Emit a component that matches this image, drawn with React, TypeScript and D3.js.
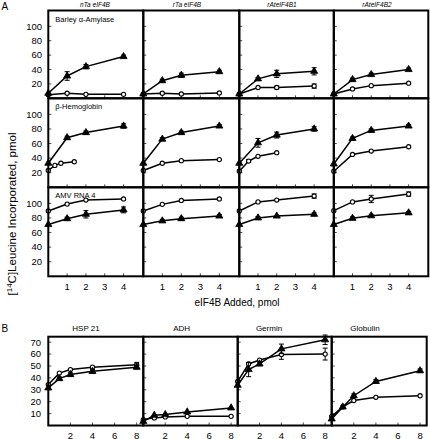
import React from "react";
import * as d3 from "d3";

// ---------- DATA ----------
const colTitlesA = ["nTa eIF4B", "rTa eIF4B", "rAteIF4B1", "rAteIF4B2"];
const rowTitlesA = ["Barley \u03b1-Amylase", "\u03b2-Hemoglobin", "AMV RNA 4"];
const xTicksA = [1, 2, 3, 4];
const yTicksA = [20, 40, 60, 80, 100];
const xA = [0, 1, 2, 4];

// Row 1: Barley α-Amylase
const amylaseTri = [[7, 31, 44, 58], [6, 24.5, 32, 37], [6, 27, 34, 37.5], [6, 26, 33, 40]];
const amylaseTriErr = [[0, 6, 3, 2], [0, 2, 3, 2], [0, 2, 5, 5], [0, 2, 2, 2]];
const amylaseCirc = [[5, 7, 5.5, 5.5], [6, 7, 6, 7.4], [6, 15, 15, 17], [6, 13, 17.6, 21]];
const amylaseCircErr = [[0, 1, 0, 0], [0, 0, 0, 0], [0, 1, 2, 3], [0, 1, 1, 1]];
const amylaseCircX = [xA, xA, xA, xA];

// Row 2: β-Hemoglobin
const hemoTri = [[33, 68, 75, 84], [33, 66, 75, 84], [33, 61, 71.6, 80], [32, 67, 78, 84]];
const hemoTriErr = [[0, 2, 2, 3], [0, 2, 2, 2], [0, 6, 4, 3], [0, 2, 2, 2]];
const hemoCirc = [[23, 30, 33, 35], [23, 33, 36.5, 38], [22, 36, 42.5, 47.4], [22, 45, 49.7, 55.6]];
const hemoCircErr = [[0, 1, 1, 1], [0, 1, 1, 1], [0, 2, 1, 1], [0, 1, 1, 1]];
const hemoCircX = [[0, 0.35, 0.67, 1.38], xA, [0, 0.5, 1, 2], xA];

// Row 3: AMV RNA 4
const amvTri = [[71, 79, 85, 91], [71, 76, 79, 82.6], [71, 80, 82.6, 85], [71, 79.5, 83, 87]];
const amvTriErr = [[0, 2, 5, 4], [0, 2, 2, 2], [0, 2, 1, 2], [0, 2, 2, 2]];
const amvCirc = [[89.5, 99, 104.5, 106], [89.5, 98.6, 104, 106], [89.5, 102, 104.5, 110], [90, 102, 106, 112.7]];
const amvCircErr = [[0, 1, 1, 1], [0, 1, 1, 1], [0, 1, 1, 3], [0, 1, 5, 3]];
const amvCircX = [xA, xA, xA, xA];

// Panel B
const colTitlesB = ["HSP 21", "ADH", "Germin", "Globulin"];
const xB = [0, 1, 2, 4, 8];
const xTicksB = [2, 4, 6, 8];
const yTicksB = [10, 20, 30, 40, 50, 60, 70];
const bTri = [
  [31.6, 39.4, 42.8, 45.5, 49],
  [3.5, 8.6, 9.2, 11.4, 14.8],
  [33.8, 47, 51.7, 64.4, 72],
  [5.5, 15.6, 25, 37, 46],
];
const bTriErr = [
  [1, 1.5, 1.5, 1.5, 1.5],
  [0.5, 1, 1, 1, 1],
  [1, 6, 1.5, 4, 4],
  [1, 1, 1.5, 1.5, 1.5],
];
const bCirc = [
  [34.4, 44, 47, 49, 51],
  [5, 6.4, 7.2, 7.7, 7.7],
  [37, 51.7, 55, 59.6, 60],
  [7.7, 15.6, 21, 23.7, 25],
];
const bCircErr = [
  [1, 1, 1, 1, 2],
  [0.5, 0.5, 0.5, 0.5, 0.5],
  [1, 1, 1, 4, 5],
  [1, 1, 1, 1, 1],
];

// ---------- LAYOUT ----------
const FONT = "'Liberation Sans', Arial, sans-serif";
const colEdgesA = [48.3, 143.3, 239.3, 333.8, 428.3];
const rowEdgesA = [10.5, 98.3, 187.3, 276.3];
const colEdgesB = [48.3, 143.3, 237.7, 331.7, 426.7];
const topB = 336.7;
const botB = 425.5;
const titleXB = [86, 181.7, 269, 365];

type Series = { x: number[]; y: number[]; e: number[] };

function Markers({ s, xs, ys, kind }: { s: Series; xs: d3.ScaleLinear<number, number>; ys: d3.ScaleLinear<number, number>; kind: "tri" | "circ" }) {
  const line = d3
    .line<number>()
    .x((_, i) => xs(s.x[i]))
    .y((v) => ys(v));
  const tri = d3.symbol().type(d3.symbolTriangle).size(22)();
  return (
    <g>
      <path d={line(s.y) || ""} fill="none" stroke="#000" strokeWidth={1.5} />
      {s.y.map((v, i) =>
        s.e[i] > 1.2 ? (
          <g key={"e" + i} stroke="#000" strokeWidth={1}>
            <line x1={xs(s.x[i])} x2={xs(s.x[i])} y1={ys(v - s.e[i])} y2={ys(v + s.e[i])} />
            <line x1={xs(s.x[i]) - 2.5} x2={xs(s.x[i]) + 2.5} y1={ys(v - s.e[i])} y2={ys(v - s.e[i])} />
            <line x1={xs(s.x[i]) - 2.5} x2={xs(s.x[i]) + 2.5} y1={ys(v + s.e[i])} y2={ys(v + s.e[i])} />
          </g>
        ) : null
      )}
      {s.y.map((v, i) =>
        kind === "tri" ? (
          <path key={"m" + i} d={tri || ""} transform={`translate(${xs(s.x[i])},${ys(v)})`} fill="#000" stroke="#000" strokeWidth={0.8} />
        ) : (
          <circle key={"m" + i} cx={xs(s.x[i])} cy={ys(v)} r={2.1} fill="#fff" stroke="#000" strokeWidth={1.1} />
        )
      )}
    </g>
  );
}

export default function App() {
  const rowsA = [
    { tri: amylaseTri, triE: amylaseTriErr, circ: amylaseCirc, circE: amylaseCircErr, circX: amylaseCircX },
    { tri: hemoTri, triE: hemoTriErr, circ: hemoCirc, circE: hemoCircErr, circX: hemoCircX },
    { tri: amvTri, triE: amvTriErr, circ: amvCirc, circE: amvCircErr, circX: amvCircX },
  ];

  const panelsA: React.ReactNode[] = [];
  rowsA.forEach((row, r) => {
    const y0 = rowEdgesA[r];
    const y1 = rowEdgesA[r + 1];
    const ys = d3.scaleLinear().domain([0, 122]).range([y1, y0]);
    for (let c = 0; c < 4; c++) {
      const x0 = colEdgesA[c];
      const x1 = colEdgesA[c + 1];
      const xs = d3.scaleLinear().domain([0, 5.05]).range([x0, x1]);
      panelsA.push(
        <g key={`a${r}-${c}`}>
          {yTicksA.map((t) => (
            <line key={"yt" + t} x1={x0} x2={x0 + 3} y1={ys(t)} y2={ys(t)} stroke="#000" strokeWidth={0.7} />
          ))}
          {xTicksA.map((t) => (
            <line key={"xt" + t} x1={xs(t)} x2={xs(t)} y1={y1} y2={y1 - 3} stroke="#000" strokeWidth={0.7} />
          ))}
          <Markers s={{ x: row.circX[c], y: row.circ[c], e: row.circE[c] }} xs={xs} ys={ys} kind="circ" />
          <Markers s={{ x: xA, y: row.tri[c], e: row.triE[c] }} xs={xs} ys={ys} kind="tri" />
          {c === 0 && (
            <text x={x0 + 7} y={y0 + 11} fontSize={7.5} fontFamily={FONT}>
              {rowTitlesA[r]}
            </text>
          )}
          {c === 0 &&
            yTicksA.map((t) => (
              <text key={"yl" + t} x={42} y={ys(t)} dy="0.35em" textAnchor="end" fontSize={9.5} fontFamily={FONT}>
                {t}
              </text>
            ))}
          {r === 2 &&
            xTicksA.map((t) => (
              <text key={"xl" + t} x={xs(t)} y={289.5} textAnchor="middle" fontSize={9.5} fontFamily={FONT}>
                {t}
              </text>
            ))}
        </g>
      );
    }
  });

  const panelsB: React.ReactNode[] = [];
  const ysB = d3.scaleLinear().domain([0, 74.6]).range([botB, topB]);
  for (let c = 0; c < 4; c++) {
    const x0 = colEdgesB[c];
    const x1 = colEdgesB[c + 1];
    const xs = d3.scaleLinear().domain([0, 8.6]).range([x0, x1]);
    panelsB.push(
      <g key={"b" + c}>
        {yTicksB.map((t) => (
          <line key={"yt" + t} x1={x0} x2={x0 + 3} y1={ysB(t)} y2={ysB(t)} stroke="#000" strokeWidth={0.7} />
        ))}
        {xTicksB.map((t) => (
          <line key={"xt" + t} x1={xs(t)} x2={xs(t)} y1={botB} y2={botB - 3} stroke="#000" strokeWidth={0.7} />
        ))}
        <Markers s={{ x: xB, y: bCirc[c], e: bCircErr[c] }} xs={xs} ys={ysB} kind="circ" />
        <Markers s={{ x: xB, y: bTri[c], e: bTriErr[c] }} xs={xs} ys={ysB} kind="tri" />
        <text x={titleXB[c]} y={331} textAnchor="middle" fontSize={8} fontFamily={FONT}>
          {colTitlesB[c]}
        </text>
        {c === 0 &&
          yTicksB.map((t) => (
            <text key={"yl" + t} x={41} y={ysB(t)} dy="0.35em" textAnchor="end" fontSize={9.5} fontFamily={FONT}>
              {t}
            </text>
          ))}
        {xTicksB.map((t) => (
          <text key={"xl" + t} x={xs(t)} y={438.5} textAnchor="middle" fontSize={9.5} fontFamily={FONT}>
            {t}
          </text>
        ))}
      </g>
    );
  }

  return (
    <svg width={430} height={439} style={{ position: "absolute", left: 0, top: 0, background: "#fff" }}>
      <rect x={0} y={0} width={430} height={439} fill="#fff" />
      <text x={1.5} y={10} fontSize={10} fontFamily={FONT}>A</text>
      <text x={1.5} y={332} fontSize={10} fontFamily={FONT}>B</text>
      {colTitlesA.map((t, i) => (
        <text key={t} x={[95, 187, 282, 377][i]} y={7} textAnchor="middle" fontSize={6.5} fontStyle="italic" fontFamily={FONT}>
          {t}
        </text>
      ))}
      {panelsA}
      {/* frames A */}
      {rowEdgesA.slice(0, 3).map((y0, r) =>
        colEdgesA.slice(0, 4).map((x0, c) => (
          <rect key={`fa${r}${c}`} x={x0} y={y0} width={colEdgesA[c + 1] - x0} height={rowEdgesA[r + 1] - y0} fill="none" stroke="#000" strokeWidth={2} />
        ))
      )}
      {panelsB}
      {colEdgesB.slice(0, 4).map((x0, c) => (
        <rect key={"fb" + c} x={x0} y={topB} width={colEdgesB[c + 1] - x0} height={botB - topB} fill="none" stroke="#000" strokeWidth={2} />
      ))}
      <text x={237} y={306} textAnchor="middle" fontSize={10} fontFamily={FONT}>
        eIF4B Added, pmol
      </text>
      <text transform="translate(16,214) rotate(-90)" textAnchor="middle" fontSize={11.5} fontFamily={FONT}>
        [<tspan fontSize={8} dy={-4}>14</tspan>
        <tspan dy={4}>C]Leucine Incorporated, pmol</tspan>
      </text>
    </svg>
  );
}
